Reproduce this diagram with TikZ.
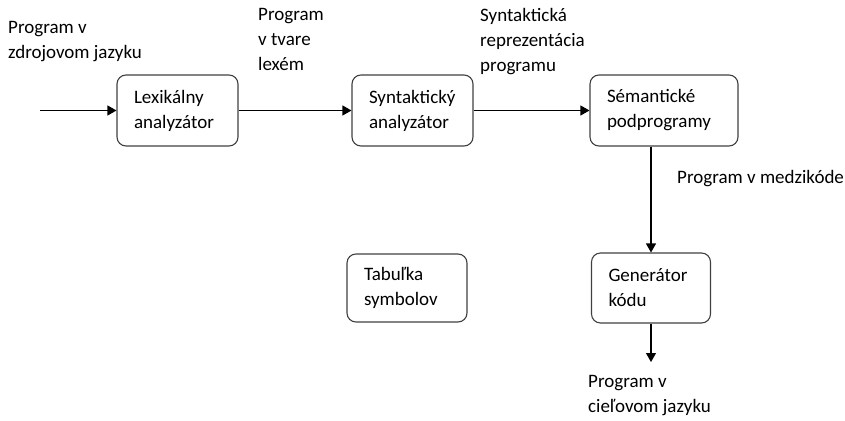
\documentclass[tikz,border=0pt]{standalone}
\usepackage{fontspec}
\setmainfont{Carlito}
\usetikzlibrary{arrows.meta}
\begin{document}
\begin{tikzpicture}[x=1pt,y=-1pt,
  every node/.style={font=\fontsize{19}{25}\selectfont},
  procbox/.style={draw=black!75, line width=1.1pt, rounded corners=9pt, minimum height=71pt, inner xsep=17pt, inner ysep=0pt, align=left},
  lbl/.style={anchor=north west, inner sep=0pt, align=left},
  flow/.style={line width=1.2pt, -{Triangle[length=9pt,width=10pt]}}]
\useasboundingbox (0,0) rectangle (845,420);
\node[procbox, text width=87pt] (lex) at (177.5,110.5) {Lexikálny\\analyzátor};
\node[procbox, text width=87pt] (syn) at (412.5,110.5) {Syntaktický\\analyzátor};
\node[procbox, text width=114pt] (sem) at (664,110.5) {Sémantické\\podprogramy};
\node[procbox, text width=85pt, minimum height=70pt] (gen) at (651,288) {Generátor\\kódu};
\node[procbox, text width=86pt, minimum height=68pt] (tab) at (407,288) {Tabuľka\\symbolov};
\coordinate (in) at (40,110.5);
\coordinate (out) at (651,362);
\draw[flow] (in) -- (lex);
\draw[flow] (lex) -- (syn);
\draw[flow] (syn) -- (sem);
\draw[flow] (gen.north |- sem.south) -- (gen.north);
\draw[flow] (gen.south) -- (out);
\node[lbl] (l1) at (8,21) {Program v\\zdrojovom jazyku};
\node[lbl] (l2) at (258,8) {Program\\v tvare\\lexém};
\node[lbl] (l3) at (480,8) {Syntaktická\\reprezentácia\\programu};
\node[lbl] (l4) at (677,170) {Program v medzikóde};
\node[lbl] (l5) at (588,375) {Program v\\cieľovom jazyku};
\end{tikzpicture}
\end{document}
